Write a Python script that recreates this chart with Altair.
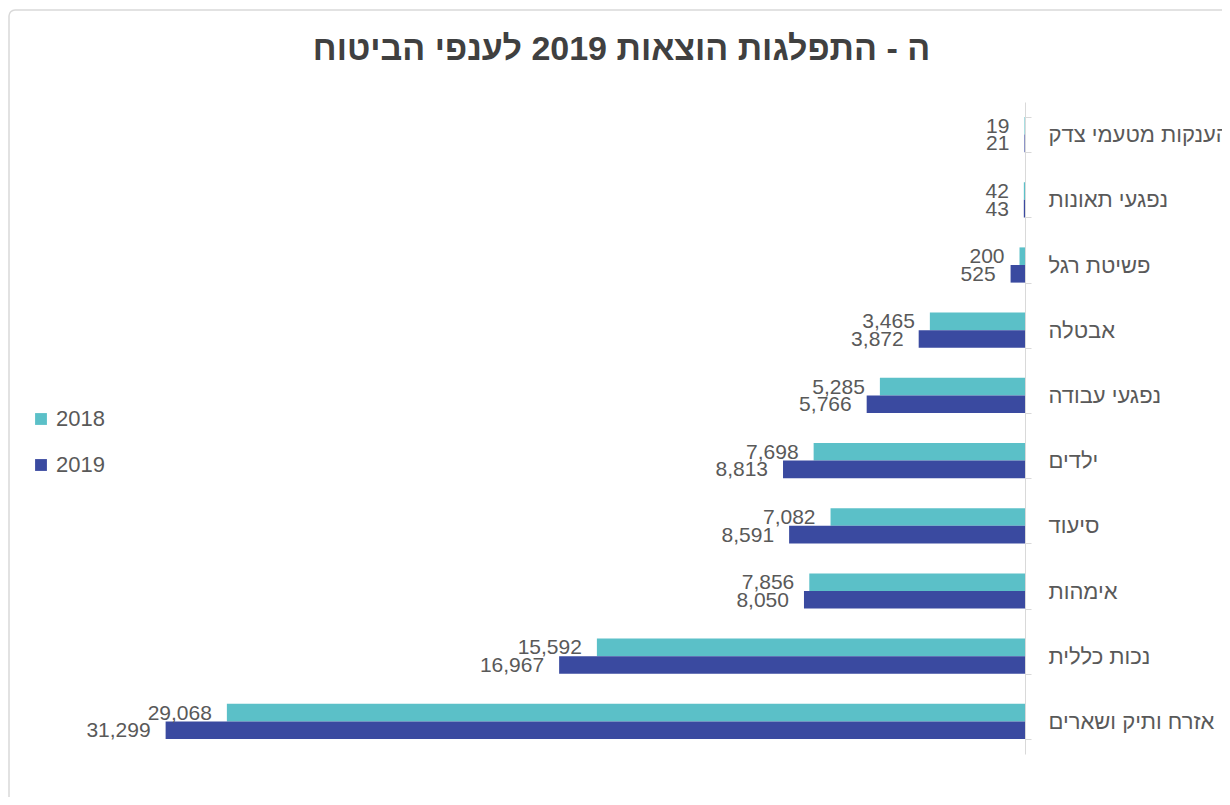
import altair as alt
import pandas as pd

categories = ["הענקות מטעמי צדק", "נפגעי תאונות", "פשיטת רגל", "אבטלה", "נפגעי עבודה",
              "ילדים", "סיעוד", "אימהות", "נכות כללית", "אזרח ותיק ושארים"]
values_2018 = [19, 42, 200, 3465, 5285, 7698, 7082, 7856, 15592, 29068]
values_2019 = [21, 43, 525, 3872, 5766, 8813, 8591, 8050, 16967, 31299]
years = ["2018", "2019"]
colors = ["#5BC0C8", "#3A4AA0"]
title_text = "ה - התפלגות הוצאות 2019 לענפי הביטוח"

rows = []
for c, a, b in zip(categories, values_2018, values_2019):
    rows.append({"cat": c, "year": years[0], "value": a})
    rows.append({"cat": c, "year": years[1], "value": b})
df = pd.DataFrame(rows)

W, H = 961, 652
FONT = "Liberation Sans"
NUMFONT = "Liberation Sans Narrow, Liberation Sans, sans-serif"

x_enc = alt.X("value:Q", scale=alt.Scale(domain=[0, 35000], reverse=True, nice=False), axis=None)
y_enc = alt.Y(
    "cat:N", sort=categories,
    scale=alt.Scale(paddingInner=0.46, paddingOuter=0.23),
    axis=alt.Axis(orient="right", title=None, labelFontSize=22, labelColor="#595959",
                  labelFont=FONT, domainColor="#D9D9D9", tickColor="#D9D9D9",
                  tickSize=6, tickBand="extent", labelPadding=17, labelAlign="left",
                  labelLimit=500),
)
yoff_enc = alt.YOffset("year:N", sort=years, scale=alt.Scale(paddingInner=0, paddingOuter=0))

base = alt.Chart(df)

bars = base.mark_bar().encode(
    x=x_enc, y=y_enc, yOffset=yoff_enc,
    color=alt.Color("year:N", scale=alt.Scale(domain=years, range=colors),
                    legend=alt.Legend(title=None, orient="none", legendX=-34, legendY=306,
                                      symbolType="square", symbolSize=140, symbolStrokeWidth=0,
                                      labelFontSize=22, labelColor="#595959", labelFont=FONT,
                                      rowPadding=24, labelOffset=4)),
)

labels = base.mark_text(align="right", baseline="middle", dx=-15, dy=1, fontSize=21,
                        color="#595959", font=NUMFONT).encode(
    x=x_enc, y=y_enc, yOffset=yoff_enc,
    text=alt.Text("value:Q", format=","),
)

frame = alt.Chart(alt.Data(values=[{}])).mark_rect(
    fill="transparent", stroke="#D9D9D9", strokeWidth=1.5, cornerRadius=6
).encode(x=alt.value(-55), x2=alt.value(1200), y=alt.value(-92), y2=alt.value(760))

chart = alt.layer(frame, bars, labels).properties(
    width=W, height=H,
    padding={"left": 56, "top": 94, "right": 197, "bottom": 43},
    autosize=alt.AutoSizeParams(type="none"),
    title=alt.TitleParams(title_text, fontSize=34, font=FONT, fontWeight="bold",
                          color="#404040", anchor="middle", frame="group", dx=77,
                          baseline="alphabetic", offset=-85),
    background="white",
).configure_view(stroke=None)

chart.save("out.html", embed_options={"renderer": "svg", "actions": False})
